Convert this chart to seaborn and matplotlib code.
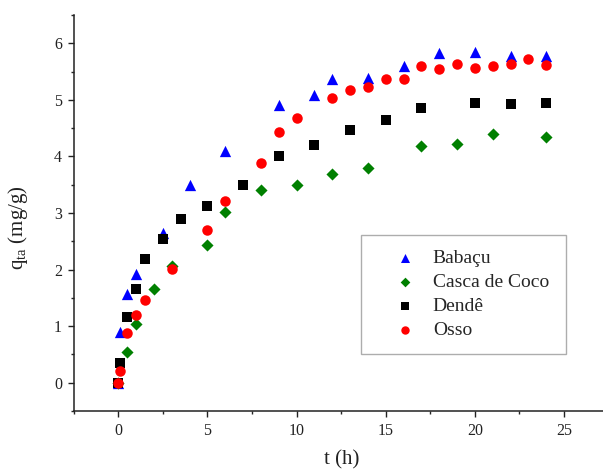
import numpy as np
import pandas as pd
import matplotlib
matplotlib.use("Agg")
import matplotlib.pyplot as plt
import seaborn as sns
from matplotlib.ticker import MultipleLocator

# ---- data ----
t_babacu = [0, 0.083, 0.5, 1, 2.5, 4, 6, 9, 11, 12, 14, 16, 18, 20, 22, 24]
q_babacu = [0, 0.89, 1.56, 1.92, 2.64, 3.49, 4.09, 4.91, 5.09, 5.36, 5.39, 5.60, 5.82, 5.84, 5.77, 5.77]

t_coco = [0, 0.5, 1, 2, 3, 5, 6, 8, 10, 12, 14, 17, 19, 21, 24]
q_coco = [0, 0.54, 1.04, 1.65, 2.07, 2.44, 3.01, 3.40, 3.50, 3.69, 3.80, 4.18, 4.22, 4.39, 4.35]

t_dende = [0, 0.083, 0.5, 1, 1.5, 2.5, 3.5, 5, 7, 9, 11, 13, 15, 17, 20, 22, 24]
q_dende = [0, 0.35, 1.17, 1.66, 2.19, 2.54, 2.89, 3.12, 3.49, 4.00, 4.21, 4.47, 4.65, 4.86, 4.95, 4.93, 4.94]

t_osso = [0, 0.083, 0.5, 1, 1.5, 3, 5, 6, 8, 9, 10, 12, 13, 14, 15, 16, 17, 18, 19, 20, 21, 22, 23, 24]
q_osso = [0, 0.21, 0.87, 1.19, 1.47, 2.01, 2.70, 3.21, 3.88, 4.44, 4.68, 5.04, 5.18, 5.22, 5.37, 5.37,
          5.59, 5.54, 5.64, 5.57, 5.59, 5.64, 5.72, 5.62]

series_names = ["Babaçu", "Casca de Coco", "Dendê", "Osso"]
series_t = [t_babacu, t_coco, t_dende, t_osso]
series_q = [q_babacu, q_coco, q_dende, q_osso]

frames = []
for name, tt, qq in zip(series_names, series_t, series_q):
    frames.append(pd.DataFrame({"t": tt, "q": qq, "Material": name}))
df = pd.concat(frames, ignore_index=True)

colors = {"Babaçu": "#0000ff", "Casca de Coco": "#008000", "Dendê": "#000000", "Osso": "#ff0000"}
markers = {"Babaçu": "^", "Casca de Coco": "D", "Dendê": "s", "Osso": "o"}
sizes = {"Babaçu": 66, "Casca de Coco": 38, "Dendê": 42, "Osso": 57}

sns.set_style("ticks")
plt.rcParams["font.family"] = ["Liberation Serif", "DejaVu Serif"]
plt.rcParams["mathtext.fontset"] = "custom"
plt.rcParams["mathtext.rm"] = "Liberation Serif"
plt.rcParams["mathtext.it"] = "Liberation Serif:italic"

fig = plt.figure(figsize=(6.03, 4.71), dpi=100)
ax = fig.add_axes([73.7 / 603, 60 / 471, 534.9 / 603, 396 / 471])

for name in series_names:
    sub = df[df["Material"] == name]
    sns.scatterplot(data=sub, x="t", y="q", marker=markers[name], color=colors[name],
                    s=sizes[name], linewidth=0, ax=ax, label=name, zorder=3)

ax.set_xlim(-2.5, 27.5)
ax.set_ylim(-0.5, 6.5)
ax.xaxis.set_major_locator(MultipleLocator(5))
ax.xaxis.set_minor_locator(MultipleLocator(2.5))
ax.yaxis.set_major_locator(MultipleLocator(1))
ax.yaxis.set_minor_locator(MultipleLocator(0.5))
ax.tick_params(which="major", direction="out", length=4.5, width=1.0, labelsize=11.5,
               colors="#222222", pad=4)
ax.tick_params(which="minor", direction="out", length=2.5, width=1.0)
for side in ["top", "right"]:
    ax.spines[side].set_visible(False)
for side in ["left", "bottom"]:
    ax.spines[side].set_linewidth(1.1)
    ax.spines[side].set_color("#222222")

ax.set_xlabel("t (h)", fontsize=15, color="#222222")
ax.xaxis.set_label_coords(0.5016, -0.098)
ax.set_ylabel(r"q$_{\mathrm{ta}}$ (mg/g)", fontsize=15, color="#222222")
ax.yaxis.set_label_coords(-0.082, 0.462)

leg = ax.legend(loc="upper left", bbox_to_anchor=(0.537, 0.1, 0.383, 0.3444), mode="expand",
                borderaxespad=0, fontsize=14, frameon=True, fancybox=False, edgecolor="#999999",
                borderpad=0.75, handlelength=3.0, handletextpad=-0.05, labelspacing=0.33,
                markerscale=0.8)
leg.get_frame().set_linewidth(1.0)

fig.savefig("out.png", dpi=100)
